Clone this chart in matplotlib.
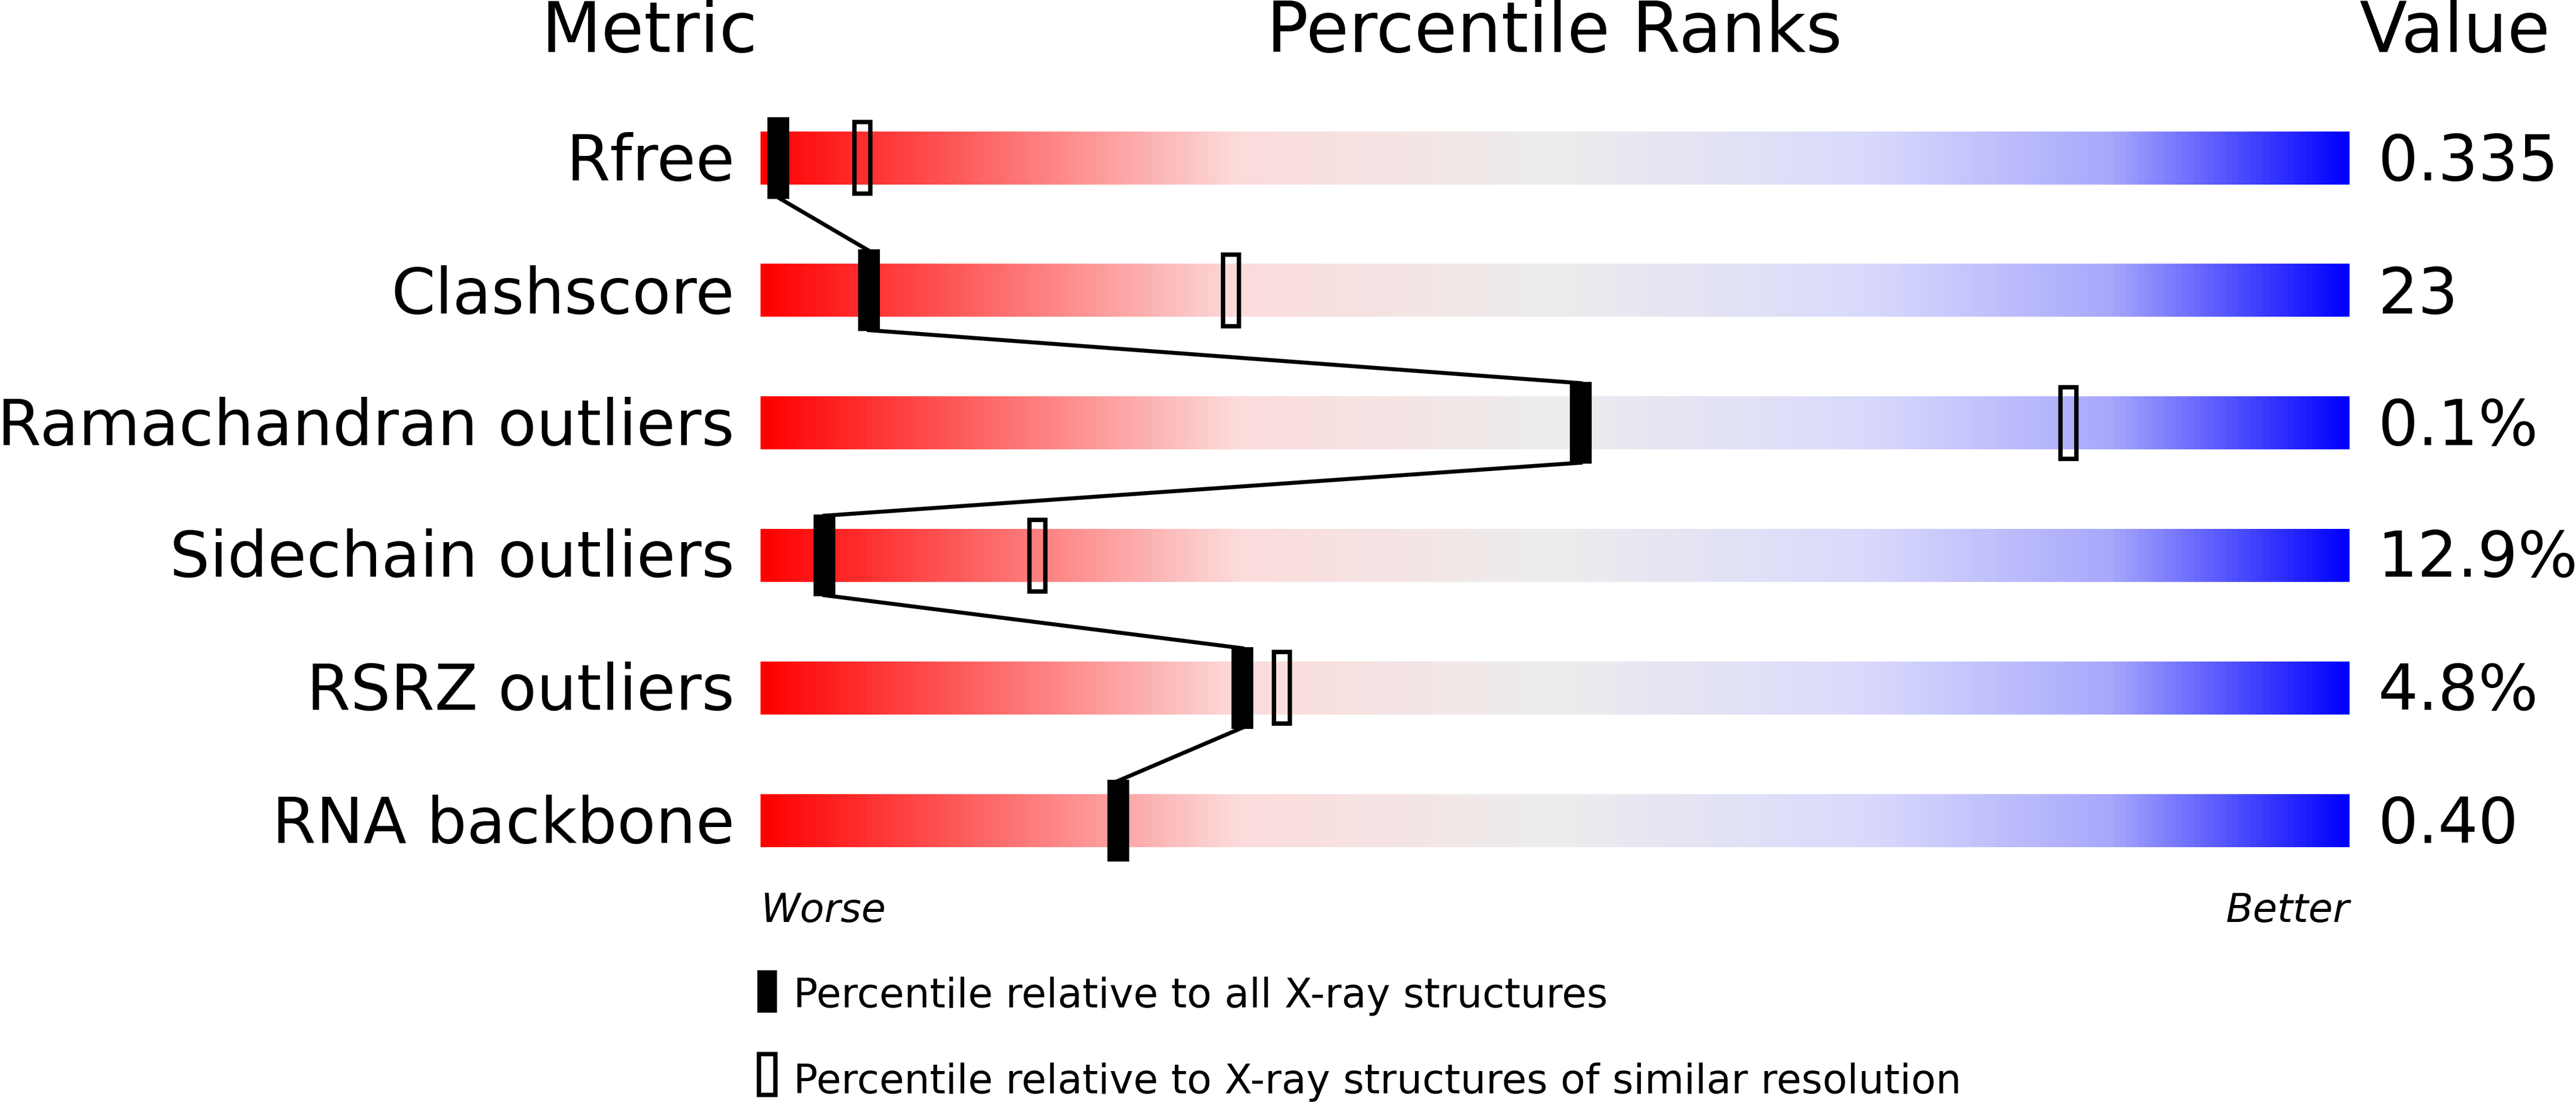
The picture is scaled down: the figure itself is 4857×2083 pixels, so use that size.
import numpy as np
import matplotlib.pyplot as plt
from matplotlib.colors import LinearSegmentedColormap
from matplotlib.patches import Rectangle

metrics = ["Rfree", "Clashscore", "Ramachandran outliers", "Sidechain outliers", "RSRZ outliers", "RNA backbone"]
values = ["0.335", "23", "0.1%", "12.9%", "4.8%", "0.40"]
pct_all = [1.1, 6.8, 51.6, 4.0, 30.3, 22.5]
pct_similar = [6.4, 29.6, 82.3, 17.4, 32.8, None]

W, H = 1568, 672
fig = plt.figure(figsize=(4858 / 300, 2083 / 300), dpi=300)

cmap = LinearSegmentedColormap.from_list("pr", [
    (0.0, (1.0, 0.0, 0.0)),
    (0.3, (0.99, 0.86, 0.86)),
    (0.5, (0.93, 0.93, 0.93)),
    (0.7, (0.85, 0.85, 0.99)),
    (0.85, (0.66, 0.66, 0.99)),
    (1.0, (0.0, 0.0, 1.0))])

# overlay axes in reference pixel units
ov = fig.add_axes([0, 0, 1, 1])
ov.set_xlim(0, W)
ov.set_ylim(H, 0)
ov.axis("off")

row_y = [96, 177, 257, 337, 418, 499]
step = 80.6
x0, x1 = 463, 1430
ax = fig.add_axes([x0 / W, 1 - (row_y[-1] + step / 2) / H, (x1 - x0) / W, (row_y[-1] - row_y[0] + step) / H])
ax.set_xlim(0, 100)
ax.set_ylim(len(metrics) - 0.5, -0.5)
ax.axis("off")

grad = np.linspace(0, 1, 512).reshape(1, -1)
bh = 0.40
mh = 0.6
for i in range(len(metrics)):
    ax.imshow(grad, cmap=cmap, aspect="auto", extent=(0, 100, i + bh / 2, i - bh / 2), zorder=1)

# connecting line: bottom of one marker to top of the next
for i in range(len(pct_all) - 1):
    ax.plot([pct_all[i], pct_all[i + 1]], [i + mh / 2, i + 1 - mh / 2], color="black", lw=1.8, zorder=3)
for i, p in enumerate(pct_all):
    ax.add_patch(Rectangle((p - 0.62, i - mh / 2), 1.24, mh, facecolor="black", edgecolor="black", zorder=4))
for i, p in enumerate(pct_similar):
    if p is None:
        continue
    ax.add_patch(Rectangle((p - 0.5, i - 0.27), 1.0, 0.54, facecolor="none", edgecolor="black", lw=2, zorder=4))

for y, m, v in zip(row_y, metrics, values):
    ov.text(447, y + 3, m, ha="right", va="center", fontsize=28.6)
    ov.text(1447, y + 3, v, ha="left", va="center", fontsize=28.6)

ov.text(395, 20, "Metric", ha="center", va="center", fontsize=31.5)
ov.text(946, 20, "Percentile Ranks", ha="center", va="center", fontsize=31.5)
ov.text(1494, 20, "Value", ha="center", va="center", fontsize=31.5)
ov.text(463, 554, "Worse", ha="left", va="center", fontsize=18, style="italic")
ov.text(1430, 554, "Better", ha="right", va="center", fontsize=18, style="italic")

ov.add_patch(Rectangle((461, 590), 12, 26, facecolor="black"))
ov.text(483, 606, "Percentile relative to all X-ray structures", ha="left", va="center", fontsize=18.3)
ov.add_patch(Rectangle((462, 641), 10, 25, facecolor="none", edgecolor="black", lw=2))
ov.text(483, 658, "Percentile relative to X-ray structures of similar resolution", ha="left", va="center", fontsize=18.3)

fig.savefig("out.png", dpi=300, facecolor="white")
